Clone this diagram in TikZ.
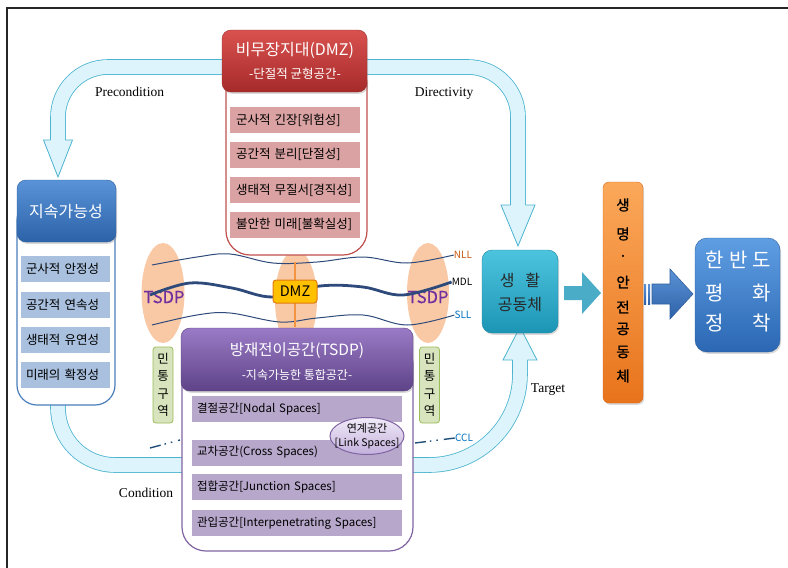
\documentclass[tikz,border=0pt]{standalone}
\usepackage{fontspec}
\setmainfont{Noto Sans CJK KR}
\newfontfamily\latinserif{Liberation Serif}
\newfontfamily\krbold{Noto Sans CJK KR}[FakeBold=1.2]
\newfontfamily\krsemi{Noto Sans CJK KR}[FakeBold=0.6]
\usetikzlibrary{shadows,shapes.geometric,shadings}

\definecolor{framegray}{HTML}{262626}
\definecolor{bandfill}{HTML}{DDF4FC}
\definecolor{bandline}{HTML}{4BB3CF}
\definecolor{redtop}{HTML}{D9524F}
\definecolor{redbot}{HTML}{A62A2A}
\definecolor{redborder}{HTML}{9E2B2B}
\definecolor{redline}{HTML}{C0504D}
\definecolor{reditem}{HTML}{DAA2A2}
\definecolor{bluetop}{HTML}{5A93D8}
\definecolor{bluebot}{HTML}{2C62A8}
\definecolor{blueborder}{HTML}{2C5C9A}
\definecolor{blueline}{HTML}{4A7EBB}
\definecolor{blueitem}{HTML}{A9C0DE}
\definecolor{purtop}{HTML}{9A7AC6}
\definecolor{purbot}{HTML}{5E4388}
\definecolor{purborder}{HTML}{5A407F}
\definecolor{purline}{HTML}{8064A2}
\definecolor{puritem}{HTML}{B6A7CB}
\definecolor{linktop}{HTML}{F1EBF8}
\definecolor{linkbot}{HTML}{C3B0DC}
\definecolor{peach}{HTML}{F9C9A6}
\definecolor{tsdpc}{HTML}{7030A0}
\definecolor{wave}{HTML}{2E4A7A}
\definecolor{dmzfill}{HTML}{FFC000}
\definecolor{dmzdraw}{HTML}{E07B10}
\definecolor{dmzline}{HTML}{F29443}
\definecolor{mintfill}{HTML}{D7E4BD}
\definecolor{mintdraw}{HTML}{9BBB59}
\definecolor{nllc}{HTML}{C55A11}
\definecolor{sllc}{HTML}{0070C0}
\definecolor{ccldash}{HTML}{1F4E79}
\definecolor{tealtop}{HTML}{4DC4DE}
\definecolor{tealbot}{HTML}{1C95B5}
\definecolor{tealborder}{HTML}{1A86A3}
\definecolor{chev}{HTML}{4AACC6}
\definecolor{orangetop}{HTML}{FBA85A}
\definecolor{orangebot}{HTML}{E8741C}
\definecolor{orangeborder}{HTML}{D8691A}
\definecolor{arrowtop}{HTML}{5B92D6}
\definecolor{arrowbot}{HTML}{2E62A8}
\definecolor{peacetop}{HTML}{5F9EE3}
\definecolor{peacebot}{HTML}{2B67B3}
\definecolor{peaceborder}{HTML}{2E5F9E}

\begin{document}
\begin{tikzpicture}[x=1pt,y=-1pt,
  band/.style={draw=bandline, line width=0.8pt, double=bandfill, double distance=14pt},
  headline/.style={draw=bandline, line width=0.8pt, line join=miter},
  shade/.style={drop shadow={shadow xshift=1.2pt, shadow yshift=-1.8pt, opacity=0.3}},
  hdr/.style={rounded corners=9pt, inner sep=0pt, shade},
  holder/.style={fill=white, rounded corners=24pt, line width=1.2pt, inner sep=0pt},
  item/.style={inner sep=0pt, minimum height=26pt, align=left, text=black,
    font=\fontsize{12.5}{15}\selectfont},
  whitetext/.style={text=white, inner sep=0pt},
  serif/.style={font=\latinserif\fontsize{13.5}{16}\selectfont, inner sep=0pt},
  peachoval/.style={ellipse, fill=peach, inner sep=0pt},
  tsdplabel/.style={text=tsdpc, font=\krsemi\fontsize{16.5}{18}\selectfont, inner sep=0pt},
  thinwave/.style={draw=wave, line width=1pt},
  linelabel/.style={font=\fontsize{10}{12}\selectfont, inner sep=0pt},
  mint/.style={fill=mintfill, draw=mintdraw, line width=0.8pt, rounded corners=3pt,
    minimum width=20pt, minimum height=76pt, inner sep=0pt, align=center,
    font=\fontsize{12.5}{17.5}\selectfont},
  ccl/.style={draw=ccldash, line width=1.4pt,
    dash pattern=on 11pt off 4pt on 1.5pt off 5pt on 1.5pt off 6pt},
  bigchar/.style={text=white, font=\fontsize{20}{22}\selectfont, inner sep=0pt},
  safechar/.style={text=black, font=\krbold\fontsize{14.5}{16}\selectfont, inner sep=0pt}
]
\useasboundingbox (0,0) rectangle (788,568);

% frame
\draw[line width=2pt, framegray] (7,568) -- (7,8) -- (788,8);

% feedback loop bands
\draw[band] (58,140) -- (58,117) .. controls (58,89.4) and (80.4,67) .. (108,67)
  -- (468,67) .. controls (495.6,67) and (518,89.4) .. (518,117) -- (518,205);
\draw[band] (58,375) -- (58,408) .. controls (58,439.5) and (83.5,465) .. (115,465)
  -- (429,465) .. controls (479.3,465) and (520,424.3) .. (520,374) -- (520,360);
% arrow heads of the bands
\fill[bandfill] (43.5,140) -- (58,177) -- (72.5,140) -- cycle;
\draw[headline] (50.6,140) -- (43.5,140) -- (58,177) -- (72.5,140) -- (65.4,140);
\fill[bandfill] (501,205) -- (518,246) -- (535,205) -- cycle;
\draw[headline] (510.6,205) -- (501,205) -- (518,246) -- (535,205) -- (525.4,205);
\fill[bandfill] (503,360) -- (520,327) -- (537,360) -- cycle;
\draw[headline] (512.6,360) -- (503,360) -- (520,327) -- (537,360) -- (527.4,360);

% loop labels
\node[serif] (precond) at (129.5,92) {Precondition};
\node[serif] (direct) at (444,93) {Directivity};
\node[serif] (cond) at (146,493) {Condition};
\node[serif] (target) at (548,390) {Target};

% border zone ovals
\node[peachoval, minimum width=43pt, minimum height=100pt] (ovalL) at (163,293) {};
\node[peachoval, minimum width=42pt, minimum height=100pt] (ovalM) at (296,300) {};
\node[peachoval, minimum width=42pt, minimum height=100pt] (ovalR) at (428,293) {};
\node[tsdplabel] (tsdpL) at (164,297) {TSDP};
\node[tsdplabel] (tsdpR) at (428,297) {TSDP};

% boundary lines
\node[linelabel, text=nllc] (nll) at (463,255) {NLL};
\node[linelabel, text=black] (mdl) at (462,282) {MDL};
\node[linelabel, text=sllc] (sll) at (463,315) {SLL};
\node[linelabel, text=sllc] (cclabel) at (464,438) {CCL};
\draw[thinwave] plot[smooth, tension=0.6] coordinates
  {(152,265) (197,257) (230,254) (273,263) (317,262) (363,257) (407,263) (nll.west)};
\draw[draw=wave, line width=2.8pt] plot[smooth, tension=0.6] coordinates
  {(150,295) (190,283) (232,288) (273,297) (320,286) (363,287) (403,295) (mdl.west)};
\draw[thinwave] plot[smooth, tension=0.6] coordinates
  {(152,325) (197,315) (230,313) (280,322) (317,318) (363,315) (407,325) (sll.west)};
\coordinate (cclA) at (150,448);
\coordinate (cclB) at (180,440);
\coordinate (cclC) at (415,443);
\draw[ccl] (cclA) -- (cclB);
\draw[ccl] (cclC) -- (cclabel.west);

% DMZ marker
\draw[dmzline, line width=2.5pt] (295,262) -- (295,327);
\node[fill=dmzfill, draw=dmzdraw, line width=1pt, rounded corners=3pt, inner sep=0pt,
  minimum width=44pt, minimum height=23pt, font=\fontsize{14.5}{16}\selectfont] (dmz) at (295,291.5) {DMZ};

% civilian control zones
\node[mint] (mintL) at (163,385) {민\\통\\구\\역};
\node[mint] (mintR) at (429.5,385) {민\\통\\구\\역};

% DMZ panel
\node[holder, draw=redline, minimum width=141pt, minimum height=195pt] (dmzbox) at (296.5,157.5) {};
\node[hdr, top color=redtop, bottom color=redbot, draw=redborder, minimum width=145pt, minimum height=62pt] (dmzhead) at (294.5,61) {};
\node[whitetext, font=\fontsize{16}{18}\selectfont] (dmztitle) at (295,50) {비무장지대(DMZ)};
\node[whitetext, font=\fontsize{12.5}{14}\selectfont] (dmzsub) at (295,74) {-단절적 균형공간-};
\foreach \t/\y [count=\i] in {군사적 긴장[위험성]/120, 공간적 분리[단절성]/154.5, 생태적 무질서[경직성]/190, 불안한 미래[불확실성]/224.5}
  \node[item, fill=reditem, minimum width=130pt, text width=118pt] (dmzitem\i) at (295,\y) {\t};

% sustainability panel
\node[holder, draw=blueline, rounded corners=20pt, minimum width=98pt, minimum height=205pt] (susbox) at (66,302.5) {};
\node[hdr, top color=bluetop, bottom color=bluebot, draw=blueborder, minimum width=99pt, minimum height=62pt] (sushead) at (66.5,211) {};
\node[whitetext, font=\fontsize{16}{18}\selectfont] (sustitle) at (66,212) {지속가능성};
\foreach \t/\y [count=\i] in {군사적 안정성/269, 공간적 연속성/304.5, 생태적 유연성/339.5, 미래의 확정성/374.5}
  \node[item, fill=blueitem, minimum width=89pt, text width=79pt] (susitem\i) at (65.5,\y) {\t};

% TSDP panel
\node[holder, draw=purline, minimum width=231pt, minimum height=211pt] (tsdpbox) at (297.5,445.5) {};
\node[hdr, top color=purtop, bottom color=purbot, draw=purborder, minimum width=232pt, minimum height=63pt] (tsdphead) at (297,359.5) {};
\node[whitetext, font=\fontsize{15.5}{18}\selectfont] (tsdptitle) at (297,351) {방재전이공간(TSDP)};
\node[whitetext, font=\fontsize{12}{14}\selectfont] (tsdpsub) at (297,375) {-지속가능한 통합공간-};
\foreach \t/\y [count=\i] in {결절공간[Nodal Spaces]/409, 교차공간(Cross Spaces)/452.5, 접합공간[Junction Spaces]/487, 관입공간[Interpenetrating Spaces]/523}
  \node[item, fill=puritem, minimum width=210pt, text width=200pt, font=\fontsize{11.5}{13}\selectfont] (tsdpitem\i) at (297,\y) {\t};
\node[ellipse, top color=linktop, bottom color=linkbot, draw=purline, line width=1pt,
  minimum width=74pt, minimum height=37pt, inner sep=0pt] (link) at (367,436) {};
\node[inner sep=0pt, font=\fontsize{11}{13}\selectfont] (linkA) at (367,428) {연계공간};
\node[inner sep=0pt, font=\fontsize{10.5}{13}\selectfont] (linkB) at (367,444) {[Link Spaces]};

% living community
\node[hdr, rounded corners=10pt, top color=tealtop, bottom color=tealbot, draw=tealborder,
  minimum width=76pt, minimum height=83pt] (life) at (520,291.5) {};
\node[inner sep=0pt, text=black!85, font=\fontsize{16}{18}\selectfont] (lifeA) at (520,280) {생\hspace{11pt}활};
\node[inner sep=0pt, text=black!85, font=\fontsize{16}{18}\selectfont] (lifeB) at (520,305) {공동체};

% block arrow to the safety community
\fill[chev] (564,286) -- (582,286) -- (582,272) -- (601,293) -- (582,314) -- (582,300) -- (564,300) -- cycle;

% life and safety community
\node[hdr, rounded corners=6pt, top color=orangetop, bottom color=orangebot, draw=orangeborder,
  minimum width=40pt, minimum height=221pt] (safe) at (623,292.5) {};
\foreach \c/\y [count=\i] in {생/205, 명/234, ·/258, 안/282, 전/307, 공/329, 동/352, 체/376}
  \node[safechar] (safechar\i) at (623,\y) {\c};

% striped arrow to peace
\path[top color=arrowtop, bottom color=arrowbot] (644,284) rectangle (646,304);
\path[top color=arrowtop, bottom color=arrowbot] (648,284) rectangle (650,304);
\path[top color=arrowtop, bottom color=arrowbot, draw=peaceborder, line width=0.6pt]
  (652,284) -- (670,284) -- (670,269) -- (693,294) -- (670,319) -- (670,304) -- (652,304) -- cycle;

% peace settlement
\node[hdr, rounded corners=12pt, top color=peacetop, bottom color=peacebot, draw=peaceborder,
  minimum width=85pt, minimum height=114pt] (peace) at (737.5,295) {};
\node[bigchar] (pA) at (715,260) {한};
\node[bigchar] (pB) at (738.5,260) {반};
\node[bigchar] (pC) at (762,260) {도};
\node[bigchar] (pD) at (715,293) {평};
\node[bigchar] (pE) at (762,293) {화};
\node[bigchar] (pF) at (715,323) {정};
\node[bigchar] (pG) at (762,323) {착};
\end{tikzpicture}
\end{document}
